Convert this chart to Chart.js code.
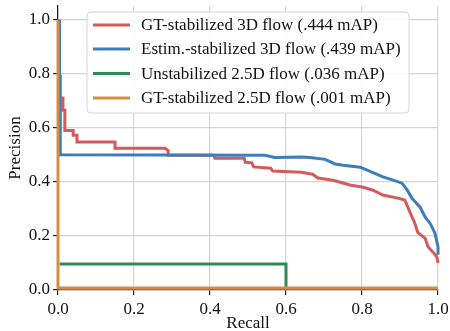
<!DOCTYPE html>
<html>
<head>
<meta charset="utf-8">
<script src="https://cdn.jsdelivr.net/npm/chart.js"></script>
<style>
  body { margin: 0; background: #fff; }
  #wrap { width: 450px; height: 331px; }
</style>
</head>
<body>
<div id="wrap"><canvas id="myChart" width="450" height="331"></canvas></div>
<script>
const seriesNames = [
  "GT-stabilized 3D flow (.444 mAP)",
  "Estim.-stabilized 3D flow (.439 mAP)",
  "Unstabilized 2.5D flow (.036 mAP)",
  "GT-stabilized 2.5D flow (.001 mAP)",
];
const seriesColors = ["#d45a5b", "#3c7dbc", "#2f8b55", "#d88b43"];

// recall / precision
const gt3dRecall = [0.013, 0.013, 0.018, 0.018, 0.04, 0.04, 0.05, 0.05, 0.15, 0.15, 0.282, 0.29, 0.29, 0.41, 0.413, 0.49, 0.493, 0.51, 0.515, 0.56, 0.565, 0.61, 0.64, 0.67, 0.684, 0.724, 0.768, 0.803, 0.829, 0.855, 0.9, 0.913, 0.926, 0.939, 0.947, 0.966, 0.974, 0.987, 0.997, 1.0];
const gt3dPrecision = [0.715, 0.665, 0.665, 0.59, 0.59, 0.572, 0.572, 0.547, 0.547, 0.524, 0.524, 0.515, 0.498, 0.498, 0.487, 0.487, 0.472, 0.47, 0.455, 0.45, 0.44, 0.437, 0.435, 0.428, 0.414, 0.406, 0.388, 0.38, 0.369, 0.351, 0.338, 0.332, 0.288, 0.247, 0.212, 0.192, 0.159, 0.14, 0.122, 0.1];

const est3dRecall = [0.004, 0.004, 0.006, 0.006, 0.545, 0.57, 0.64, 0.663, 0.703, 0.729, 0.75, 0.795, 0.826, 0.855, 0.882, 0.905, 0.918, 0.932, 0.953, 0.966, 0.979, 0.992, 1.0, 1.0];
const est3dPrecision = [1.0, 0.79, 0.79, 0.5, 0.498, 0.49, 0.492, 0.49, 0.483, 0.466, 0.461, 0.454, 0.436, 0.418, 0.406, 0.395, 0.372, 0.338, 0.306, 0.27, 0.247, 0.21, 0.16, 0.13];

const unstabRecall = [0.004, 0.6, 0.6];
const unstabPrecision = [0.096, 0.096, 0.0];

const gt25dRecall = [0.0, 0.0, 1.0];
const gt25dPrecision = [1.0, 0.007, 0.007];

const tickValues = [0, 0.2, 0.4, 0.6, 0.8, 1.0];

function toPoints(xs, ys) {
  return xs.map((x, i) => ({ x: x, y: ys[i] }));
}

const serif = "'Liberation Serif', 'Times New Roman', serif";

// legend box drawn inside the plot, like matplotlib
const legendBox = {
  id: "legendBox",
  afterDatasetsDraw(chart) {
    const ctx = chart.ctx;
    const x = 87, y = 12, w = 322, h = 101, r = 4;
    ctx.save();
    ctx.beginPath();
    ctx.moveTo(x + r, y);
    ctx.arcTo(x + w, y, x + w, y + h, r);
    ctx.arcTo(x + w, y + h, x, y + h, r);
    ctx.arcTo(x, y + h, x, y, r);
    ctx.arcTo(x, y, x + w, y, r);
    ctx.closePath();
    ctx.fillStyle = "rgba(255,255,255,0.85)";
    ctx.fill();
    ctx.strokeStyle = "#d6d6d6";
    ctx.lineWidth = 1;
    ctx.stroke();

    const rows = [25, 49, 73.5, 98];
    ctx.font = "17px " + serif;
    ctx.textBaseline = "middle";
    seriesNames.forEach((name, i) => {
      ctx.strokeStyle = seriesColors[i];
      ctx.lineWidth = 3;
      ctx.beginPath();
      ctx.moveTo(93, rows[i]);
      ctx.lineTo(130, rows[i]);
      ctx.stroke();
      ctx.fillStyle = "#111";
      ctx.fillText(name, 141, rows[i] + 1);
    });
    ctx.restore();
  },
};

const allX = [gt3dRecall, est3dRecall, unstabRecall, gt25dRecall];
const allY = [gt3dPrecision, est3dPrecision, unstabPrecision, gt25dPrecision];

new Chart(document.getElementById("myChart"), {
  type: "line",
  data: {
    datasets: seriesNames.map((name, i) => ({
      label: name,
      data: toPoints(allX[i], allY[i]),
      borderColor: seriesColors[i],
      backgroundColor: seriesColors[i],
      borderWidth: 3,
      pointRadius: 0,
      tension: 0,
      fill: false,
      clip: 4,
      order: 3 - i,
    })),
  },
  options: {
    responsive: false,
    animation: false,
    layout: { padding: { top: 6, right: 12, left: 0, bottom: 0 } },
    plugins: {
      legend: { display: false },
      tooltip: { enabled: false },
    },
    scales: {
      x: {
        type: "linear",
        min: 0,
        max: 1,
        afterBuildTicks: (scale) => {
          scale.ticks = tickValues.map((v) => ({ value: v }));
        },
        afterFit: (scale) => {
          scale.height = 41;
          scale.paddingLeft = 0;
          scale.paddingRight = 0;
        },
        grid: {
          color: "#d4d4d4",
          lineWidth: 1.2,
          tickColor: "#222",
          tickLength: 5,
        },
        border: { color: "#555", width: 1.2 },
        ticks: {
          color: "#111",
          padding: 4,
          maxRotation: 0,
          font: { family: serif, size: 17 },
          callback: (v) => v.toFixed(1),
        },
        title: {
          display: true,
          text: "Recall",
          color: "#111",
          padding: { top: 0, bottom: -3 },
          font: { family: serif, size: 17 },
        },
      },
      y: {
        min: 0,
        max: 1.05,
        afterBuildTicks: (scale) => {
          scale.ticks = tickValues.map((v) => ({ value: v }));
        },
        afterFit: (scale) => {
          scale.width = 58;
          scale.paddingTop = 0;
          scale.paddingBottom = 0;
        },
        grid: {
          color: "#d4d4d4",
          lineWidth: 1.2,
          tickColor: "#222",
          tickLength: 5,
        },
        border: { color: "#111", width: 1.2 },
        ticks: {
          color: "#111",
          padding: 3,
          font: { family: serif, size: 17 },
          callback: (v) => v.toFixed(1),
        },
        title: {
          display: true,
          text: "Precision",
          color: "#111",
          padding: { top: 5, bottom: 0 },
          font: { family: serif, size: 17 },
        },
      },
    },
  },
  plugins: [legendBox],
});
</script>
</body>
</html>
